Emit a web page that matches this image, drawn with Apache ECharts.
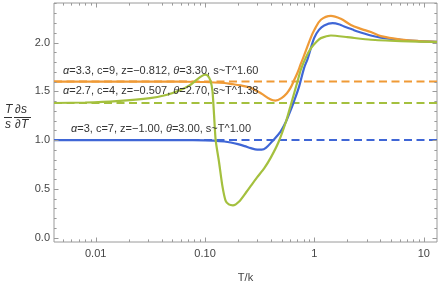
<!DOCTYPE html>
<html><head><meta charset="utf-8">
<script src="https://cdn.jsdelivr.net/npm/echarts@6/dist/echarts.min.js"></script>
<style>html,body{margin:0;padding:0;background:#fff}#c{width:441px;height:283px}</style>
</head><body><div id="c"></div>
<script>
// ---- data ----
const blueT = [0.00416, 0.01, 0.03, 0.06, 0.1, 0.12, 0.15, 0.172, 0.2, 0.23, 0.262, 0.3, 0.33, 0.36, 0.41, 0.49, 0.55, 0.608, 0.652, 0.725, 0.805, 0.865, 0.993, 1.1, 1.228, 1.465, 1.7, 1.87, 2.2, 2.48, 3.28, 4.05, 6.17, 9, 13.2];
const blueY = [1.0, 1.0, 1.0, 0.999, 0.997, 0.994, 0.985, 0.975, 0.958, 0.938, 0.917, 0.902, 0.902, 0.92, 0.985, 1.087, 1.19, 1.31, 1.40, 1.55, 1.74, 1.83, 2.045, 2.13, 2.175, 2.199, 2.185, 2.164, 2.135, 2.113, 2.072, 2.05, 2.028, 2.015, 2.008];
const orangeT = [0.00416, 0.01, 0.03, 0.06, 0.1, 0.15, 0.172, 0.212, 0.262, 0.324, 0.399, 0.44, 0.5, 0.56, 0.608, 0.65, 0.70, 0.75, 0.80, 0.927, 1.0, 1.145, 1.414, 1.745, 2.155, 2.66, 3.28, 4.05, 6.17, 9, 13.2];
const orangeY = [1.6, 1.6, 1.6, 1.598, 1.595, 1.585, 1.576, 1.56, 1.535, 1.48, 1.415, 1.405, 1.43, 1.48, 1.54, 1.61, 1.69, 1.78, 1.86, 2.05, 2.13, 2.233, 2.274, 2.243, 2.18, 2.14, 2.107, 2.065, 2.03, 2.015, 2.008];
const greenT = [0.00416, 0.008, 0.0156, 0.0314, 0.045, 0.0589, 0.072, 0.0837, 0.093, 0.1, 0.106, 0.112, 0.117, 0.121, 0.125, 0.134, 0.144, 0.154, 0.165, 0.18, 0.205, 0.236, 0.262, 0.30, 0.347, 0.399, 0.47, 0.55, 0.608, 0.70, 0.75, 0.83, 0.927, 1.05, 1.145, 1.414, 2.0, 3.28, 6.17, 13.2];
const greenY = [1.38, 1.385, 1.40, 1.43, 1.465, 1.51, 1.56, 1.617, 1.655, 1.67, 1.66, 1.61, 1.50, 1.25, 1.0, 0.78, 0.53, 0.38, 0.34, 0.33, 0.37, 0.46, 0.53, 0.62, 0.71, 0.82, 0.98, 1.19, 1.36, 1.6, 1.72, 1.84, 1.94, 2.01, 2.045, 2.072, 2.055, 2.028, 2.015, 2.005];
const levelValues = [1.6, 1.38, 1.0];            // orange, green, blue dashed asymptotes
const xTickValues = [0.01, 0.1, 1, 10];
const xTickLabels = ['0.01', '0.10', '1', '10'];
const yTickValues = [0, 0.5, 1, 1.5, 2];
const yTickLabels = ['0.0', '0.5', '1.0', '1.5', '2.0'];
const xMinorTicks = [0.005, 0.006, 0.007, 0.008, 0.009, 0.02, 0.03, 0.04, 0.05, 0.06, 0.07, 0.08, 0.09, 0.2, 0.3, 0.4, 0.5, 0.6, 0.7, 0.8, 0.9, 2, 3, 4, 5, 6, 7, 8, 9];
const yMinorTicks = [0.1, 0.2, 0.3, 0.4, 0.6, 0.7, 0.8, 0.9, 1.1, 1.2, 1.3, 1.4, 1.6, 1.7, 1.8, 1.9, 2.1, 2.2, 2.3, 2.4];
const xRange = [0.00416, 13.2];
const yRange = [-0.045, 2.405];
const curveLabels = ['{i|α}=3.3, c=9, z=−0.812, {i|θ}=3.30, s~T^1.60',
                     '{i|α}=2.7, c=4, z=−0.507, {i|θ}=2.70, s~T^1.38',
                     '{i|α}=3, c=7, z=−1.00, {i|θ}=3.00, s~T^1.00'];

// ---- styles ----
const BLUE = '#3f66d6', ORANGE = '#ef9a36', GREEN = '#a4c03e';
const FRAME = '#9a9a9a', TXT = '#444';
const FONT = '"Liberation Sans", Arial, sans-serif';

const zip = (a, b) => a.map((v, i) => [v, b[i]]);
const tickItems = [];
xTickValues.forEach(v => tickItems.push({a: 'x', v, len: 4.5}));
xMinorTicks.forEach(v => tickItems.push({a: 'x', v, len: 2.6}));
yTickValues.forEach(v => tickItems.push({a: 'y', v, len: 4.5}));
yMinorTicks.forEach(v => tickItems.push({a: 'y', v, len: 2.6}));

function fmtX(v) {
  for (let i = 0; i < xTickValues.length; i++) if (Math.abs(v / xTickValues[i] - 1) < 1e-6) return xTickLabels[i];
  return '';
}
function fmtY(v) {
  for (let i = 0; i < yTickValues.length; i++) if (Math.abs(v - yTickValues[i]) < 1e-6) return yTickLabels[i];
  return '';
}

const chart = echarts.init(document.getElementById('c'), null, {width: 441, height: 283});
const levelColors = [ORANGE, GREEN, BLUE];
const series = [];
levelValues.forEach((lv, i) => series.push({
  type: 'line', data: [[xRange[0], lv], [xRange[1], lv]], symbol: 'none', silent: true, z: 2,
  lineStyle: {color: levelColors[i], width: 2, type: [8, 4.5]}
}));
series.push({type: 'line', data: zip(blueT, blueY), symbol: 'none', smooth: 0.35, z: 3, lineStyle: {color: BLUE, width: 2.2}});
series.push({type: 'line', data: zip(orangeT, orangeY), symbol: 'none', smooth: 0.35, z: 4, lineStyle: {color: ORANGE, width: 2.2}});
series.push({type: 'line', data: zip(greenT, greenY), symbol: 'none', smooth: 0.2, z: 5, lineStyle: {color: GREEN, width: 2.2}});
series.push({
  type: 'custom', z: 6, silent: true, clip: false,
  data: tickItems.map(t => t.a === 'x' ? [t.v, yRange[0]] : [xRange[0], t.v]),
  renderItem(params, api) {
    const t = tickItems[params.dataIndex];
    const cs = params.coordSys;
    const st = {stroke: FRAME, lineWidth: 1};
    if (t.a === 'x') {
      const px = Math.round(api.coord([t.v, yRange[0]])[0]) + 0.5;
      const yb = cs.y + cs.height, yt = cs.y;
      return {type: 'group', children: [
        {type: 'line', shape: {x1: px, y1: yb, x2: px, y2: yb - t.len}, style: st},
        {type: 'line', shape: {x1: px, y1: yt, x2: px, y2: yt + t.len}, style: st}
      ]};
    } else {
      const py = Math.round(api.coord([xRange[0], t.v])[1]) + 0.5;
      const xl = cs.x, xr = cs.x + cs.width;
      return {type: 'group', children: [
        {type: 'line', shape: {x1: xl, y1: py, x2: xl + t.len, y2: py}, style: st},
        {type: 'line', shape: {x1: xr, y1: py, x2: xr - t.len, y2: py}, style: st}
      ]};
    }
  }
});

const labelStyle = (txt, x, y) => ({
  type: 'text', left: x, top: y, z: 10, silent: true,
  style: {text: txt, fill: '#333', font: '11px ' + FONT,
          rich: {i: {fontStyle: 'italic', fontSize: 11, fontFamily: FONT, fill: '#333'}}}
});

chart.setOption({
  animation: false,
  backgroundColor: '#fff',
  grid: {left: 54, right: 4, top: 3, bottom: 41, show: true, borderColor: FRAME, borderWidth: 1,
         backgroundColor: 'transparent', containLabel: false, outerBoundsMode: 'none'},
  xAxis: {
    type: 'log', logBase: 10, min: xRange[0], max: xRange[1],
    axisLine: {show: false}, axisTick: {show: false}, splitLine: {show: false},
    axisLabel: {formatter: fmtX, showMinLabel: false, showMaxLabel: false, margin: 6, color: TXT, fontSize: 11, fontFamily: FONT},
    name: 'T/k', nameLocation: 'middle', nameGap: 30,
    nameTextStyle: {color: TXT, fontSize: 11, fontFamily: FONT}
  },
  yAxis: {
    type: 'value', min: yRange[0], max: yRange[1], splitNumber: 5,
    axisLine: {show: false}, axisTick: {show: false}, splitLine: {show: false},
    axisLabel: {formatter: fmtY, showMinLabel: false, showMaxLabel: false, margin: 4, color: TXT, fontSize: 11, fontFamily: FONT}
  },
  graphic: [
    labelStyle(curveLabels[0], 63, 65),
    labelStyle(curveLabels[1], 63, 85),
    labelStyle(curveLabels[2], 71, 123),
    {type: 'text', left: 5, top: 104, silent: true, style: {text: 'T', font: 'italic 12px ' + FONT, fill: '#333'}},
    {type: 'text', left: 15, top: 104, silent: true, style: {text: '∂s', font: 'italic 12px ' + FONT, fill: '#333'}},
    {type: 'text', left: 5, top: 119, silent: true, style: {text: 's', font: 'italic 12px ' + FONT, fill: '#333'}},
    {type: 'text', left: 15, top: 119, silent: true, style: {text: '∂T', font: 'italic 12px ' + FONT, fill: '#333'}},
    {type: 'line', silent: true, shape: {x1: 4, y1: 117.5, x2: 12, y2: 117.5}, style: {stroke: '#333', lineWidth: 1}},
    {type: 'line', silent: true, shape: {x1: 14, y1: 117.5, x2: 31, y2: 117.5}, style: {stroke: '#333', lineWidth: 1}}
  ],
  series
});
</script></body></html>
